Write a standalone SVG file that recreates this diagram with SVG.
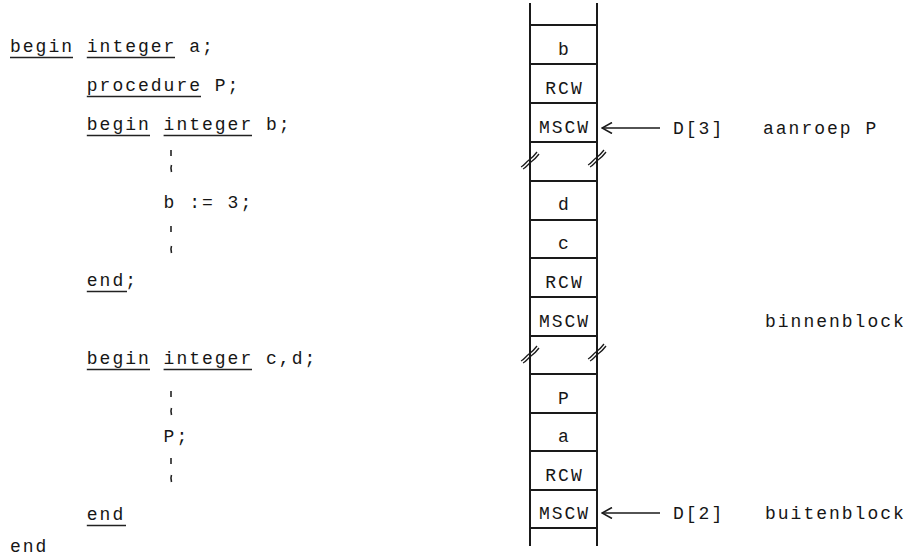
<svg xmlns="http://www.w3.org/2000/svg" width="908" height="558" viewBox="0 0 908 558">
<style>
  text { font-family: "Liberation Mono", "Courier New", monospace; font-size: 18px; letter-spacing: 2px; fill: #161616; }
  .ul { stroke: #222; stroke-width: 1.6; }
  .tick { stroke: #222; stroke-width: 1.6; fill: none; }
  .cell { fill: #fff; stroke: #1a1a1a; stroke-width: 2; }
  .rail { stroke: #1a1a1a; stroke-width: 2; }
  .brk { fill: none; stroke: #1a1a1a; stroke-width: 1.3; }
  .arr { stroke: #1a1a1a; stroke-width: 1.6; fill: none; }
  .c { text-anchor: middle; }
</style>
<defs>
  <g id="brk">
    <path class="brk" d="M-9,7 C-6,6 -4,2 -1,0 S4,-4 7,-8"/>
    <path class="brk" d="M-7,9 C-4,8 -2,4 1,2 S6,-2 9,-6"/>
  </g>
  <marker id="ah" viewBox="0 0 12 12" refX="11" refY="6" markerWidth="12" markerHeight="12" markerUnits="userSpaceOnUse" orient="auto">
    <path d="M1,0.5 L11,6 L1,11.5" fill="none" stroke="#1a1a1a" stroke-width="1.6"/>
  </marker>
</defs>

<g id="code">
  <text x="10" y="52">begin integer a;</text>
  <line class="ul" x1="10" y1="57.5" x2="73" y2="57.5"/>
  <line class="ul" x1="86.8" y1="57.5" x2="175" y2="57.5"/>

  <text x="86.8" y="91">procedure P;</text>
  <line class="ul" x1="86.8" y1="96.5" x2="201" y2="96.5"/>

  <text x="86.8" y="130">begin integer b;</text>
  <line class="ul" x1="86.8" y1="135.5" x2="150" y2="135.5"/>
  <line class="ul" x1="163.6" y1="135.5" x2="252" y2="135.5"/>

  <line class="tick" x1="171" y1="150" x2="171" y2="156"/>
  <path class="tick" d="M171.5,165 q-1.2,3 0,7"/>

  <text x="163.6" y="208">b := 3;</text>

  <line class="tick" x1="171" y1="226" x2="171" y2="232"/>
  <path class="tick" d="M171.5,246 q-1.2,3 0,7"/>

  <text x="86.8" y="286">end;</text>
  <line class="ul" x1="86.8" y1="291.5" x2="127" y2="291.5"/>

  <text x="86.8" y="364">begin integer c,d;</text>
  <line class="ul" x1="86.8" y1="369.5" x2="150" y2="369.5"/>
  <line class="ul" x1="163.6" y1="369.5" x2="252" y2="369.5"/>

  <line class="tick" x1="171" y1="391" x2="171" y2="397"/>
  <path class="tick" d="M171.5,408 q-1.2,3 0,7"/>

  <text x="163.6" y="442">P;</text>

  <line class="tick" x1="171" y1="458" x2="171" y2="464"/>
  <path class="tick" d="M171.5,475 q-1.2,3 0,7"/>

  <text x="86.8" y="520">end</text>
  <line class="ul" x1="86.8" y1="525.5" x2="126" y2="525.5"/>

  <text x="10" y="552">end</text>
</g>

<g id="stack">
  <line class="rail" x1="530" y1="3" x2="530" y2="546"/>
  <line class="rail" x1="597" y1="3" x2="597" y2="546"/>
  <line class="rail" x1="530" y1="25" x2="597" y2="25"/>
</g>

<g id="cell-b"><rect class="cell" x="530" y="25" width="67" height="39"/><text class="c" x="564.5" y="55">b</text></g>
<g id="cell-rcw3"><rect class="cell" x="530" y="64" width="67" height="39"/><text class="c" x="564.5" y="94">RCW</text></g>
<g id="cell-mscw3"><rect class="cell" x="530" y="103" width="67" height="39"/><text class="c" x="564.5" y="133">MSCW</text></g>
<g id="gap-1">
  <use href="#brk" x="530" y="160"/>
  <use href="#brk" x="597" y="158"/>
</g>
<g id="cell-d"><rect class="cell" x="530" y="181" width="67" height="39"/><text class="c" x="564.5" y="210">d</text></g>
<g id="cell-c"><rect class="cell" x="530" y="220" width="67" height="38"/><text class="c" x="564.5" y="249">c</text></g>
<g id="cell-rcw-inner"><rect class="cell" x="530" y="258" width="67" height="39"/><text class="c" x="564.5" y="288">RCW</text></g>
<g id="cell-mscw-inner"><rect class="cell" x="530" y="297" width="67" height="39"/><text class="c" x="564.5" y="327">MSCW</text></g>
<g id="gap-2">
  <use href="#brk" x="530" y="354"/>
  <use href="#brk" x="597" y="352"/>
</g>
<g id="cell-P"><rect class="cell" x="530" y="374" width="67" height="39"/><text class="c" x="564.5" y="404">P</text></g>
<g id="cell-a"><rect class="cell" x="530" y="413" width="67" height="38"/><text class="c" x="564.5" y="442">a</text></g>
<g id="cell-rcw-outer"><rect class="cell" x="530" y="451" width="67" height="39"/><text class="c" x="564.5" y="481">RCW</text></g>
<g id="cell-mscw-outer"><rect class="cell" x="530" y="490" width="67" height="38"/><text class="c" x="564.5" y="519">MSCW</text></g>

<g id="label-d3"><text x="673" y="134">D[3]</text><text x="763" y="134">aanroep P</text></g>
<g id="label-binnen"><text x="765" y="327">binnenblock</text></g>
<g id="label-d2"><text x="673" y="519">D[2]</text><text x="765" y="519">buitenblock</text></g>

<g id="connectors">
  <line class="arr" x1="660" y1="128" x2="602" y2="128" marker-end="url(#ah)"/>
  <line class="arr" x1="660" y1="513" x2="602" y2="513" marker-end="url(#ah)"/>
</g>
</svg>
